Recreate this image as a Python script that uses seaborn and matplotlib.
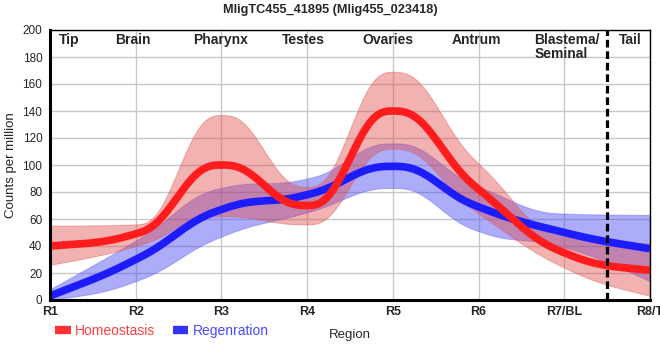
import numpy as np
import pandas as pd
import matplotlib
matplotlib.use("Agg")
import matplotlib.pyplot as plt
from matplotlib.lines import Line2D
import seaborn as sns

regions = ["R1", "R2", "R3", "R4", "R5", "R6", "R7/BL", "R8/T"]
homeostasis = [40, 49, 100, 70, 140, 82, 35, 22]
homeostasis_low = [26, 40, 62, 56, 112, 64, 24, 3]
homeostasis_high = [55, 56, 137, 84, 169, 101, 47, 42]
regeneration = [3, 30, 67, 78, 99, 69, 50, 38]
regeneration_low = [0, 14, 47, 65, 83, 51, 39, 14]
regeneration_high = [8, 44, 83, 90, 116, 84, 64, 63]
tissues = ["Tip", "Brain", "Pharynx", "Testes", "Ovaries", "Antrum", "Blastema/\nSeminal", "Tail"]


def smooth_curve(y, n=40):
    # monotone tangents (d3 style) + quintic hermite for flat tops
    y = np.asarray(y, dtype=float)
    s = np.diff(y)
    t = np.zeros(len(y))
    for i in range(1, len(y) - 1):
        p = (s[i - 1] + s[i]) / 2
        t[i] = (np.sign(s[i - 1]) + np.sign(s[i])) * min(abs(s[i - 1]), abs(s[i]), 0.5 * abs(p))
    t[0] = (3 * s[0] - t[1]) / 2
    t[-1] = (3 * s[-1] - t[-2]) / 2
    xs, ys = [], []
    for i in range(len(y) - 1):
        u = np.linspace(0, 1, n, endpoint=(i == len(y) - 2))
        h0 = 1 - 10 * u**3 + 15 * u**4 - 6 * u**5
        h1 = u - 6 * u**3 + 8 * u**4 - 3 * u**5
        h2 = -4 * u**3 + 7 * u**4 - 3 * u**5
        h3 = 10 * u**3 - 15 * u**4 + 6 * u**5
        xs.append(i + u)
        ys.append(h0 * y[i] + h1 * t[i] + h2 * t[i + 1] + h3 * y[i + 1])
    return np.concatenate(xs), np.concatenate(ys)


sns.set_style("whitegrid")
plt.rcParams["font.family"] = ["Liberation Sans", "DejaVu Sans"]

fig = plt.figure(figsize=(6.6, 3.6), dpi=100)
ax = fig.add_axes([50 / 660, 60 / 360, 600 / 660, 270 / 360])

red_line = "#ff1c1c"
blue_line = "#1c1cff"

# blue first, then red on top (blue line shows purple under red band)
x, lo = smooth_curve(regeneration_low)
_, hi = smooth_curve(regeneration_high)
ax.fill_between(x, lo, hi, color="#4848f0", alpha=0.45, linewidth=0.8, edgecolor="#6a6af0")
x, mid = smooth_curve(regeneration)
df_regen = pd.DataFrame({"x": x, "value": mid})
sns.lineplot(data=df_regen, x="x", y="value", color=blue_line, linewidth=5.5, ax=ax,
             solid_capstyle="butt")

x, lo = smooth_curve(homeostasis_low)
_, hi = smooth_curve(homeostasis_high)
ax.fill_between(x, lo, hi, color="#e04848", alpha=0.42, linewidth=0.8, edgecolor="#e06060")
x, mid = smooth_curve(homeostasis)
df_homeo = pd.DataFrame({"x": x, "value": mid})
sns.lineplot(data=df_homeo, x="x", y="value", color=red_line, linewidth=5.5, ax=ax,
             solid_capstyle="butt")

ax.axvline(6.5, color="black", linestyle=(0, (2.4, 1.2)), linewidth=2.3)

ax.set_xlim(0, 7)
ax.set_ylim(0, 200)
ax.set_xticks(range(len(regions)))
ax.set_xticklabels(regions, fontsize=9, fontweight="bold")
ax.set_yticks(range(0, 201, 20))
ax.tick_params(axis="y", labelsize=8.5, length=4, color="black", pad=1.5)
ax.tick_params(axis="x", length=0, pad=4)
ax.grid(color="#c8c8c8", linewidth=1)
for side in ["top", "right"]:
    ax.spines[side].set_color("black")
    ax.spines[side].set_linewidth(1)
for side in ["left", "bottom"]:
    ax.spines[side].set_color("black")
    ax.spines[side].set_linewidth(2.2)

ax.set_xlabel("Region", fontsize=9.5, labelpad=8)
ax.set_ylabel("Counts per million", fontsize=9.5, labelpad=4)
fig.text(0.5, 1 - 10 / 360, "MligTC455_41895 (Mlig455_023418)", ha="center", va="center",
         fontsize=9.2, fontweight="bold")

tissue_x = [0.22, 0.97, 1.99, 2.96, 3.94, 4.98, 5.65, 6.77]
for name, tx in zip(tissues, tissue_x):
    ha = "left" if "/" in name else "center"
    ax.text(tx, 198, name, ha=ha, va="top", fontsize=10, fontweight="bold", linespacing=1.0)

handles = [Line2D([], [], color="#ff3333", linewidth=6, solid_capstyle="butt"),
           Line2D([], [], color="#3333ff", linewidth=6, solid_capstyle="butt")]
fig.legend(handles, ["Homeostasis", "Regenration"], loc="center left",
           bbox_to_anchor=(0.065, 1 - 331 / 360), ncol=2, frameon=False,
           fontsize=10, handlelength=1.1, handletextpad=0.3, columnspacing=1.3,
           labelcolor=["#ff4040", "#4848ff"])

fig.savefig("out.png", dpi=100)
